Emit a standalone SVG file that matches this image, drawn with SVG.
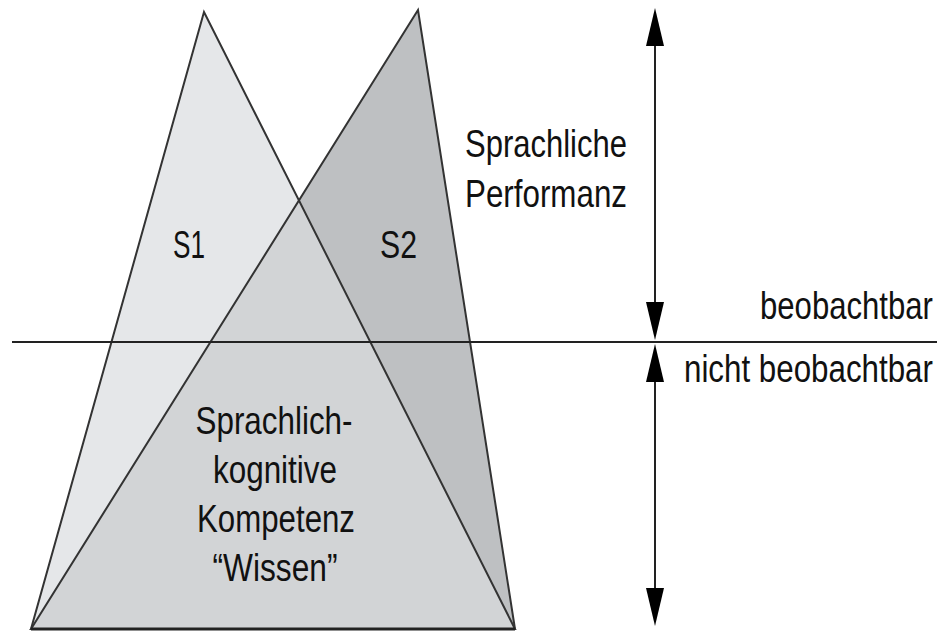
<svg xmlns="http://www.w3.org/2000/svg" width="946" height="631" viewBox="0 0 946 631">
  <style>
    .edge { fill: none; stroke: #333; stroke-width: 2; stroke-linejoin: miter; }
    .base { stroke: #222; stroke-width: 3; }
    .lbl { font-family: "Liberation Sans", Arial, sans-serif; font-size: 39px; fill: #111; }
    .ctr { text-anchor: middle; }
    .axis { stroke: #222; stroke-width: 2; fill: none; }
    .head { fill: #000; }
  </style>
  <rect width="946" height="631" fill="#fff"/>
  <g id="S1">
    <polygon points="204,12 31,629 515,629" fill="#e5e7e9"/>
  </g>
  <g id="S2">
    <polygon points="418,10 31,629 515,629" fill="#bec0c2"/>
  </g>
  <g id="kompetenz">
    <polygon points="299,201 31,629 515,629" fill="#d2d4d6"/>
  </g>
  <g id="outlines">
    <polygon class="edge" points="204,12 31,629 515,629"/>
    <polygon class="edge" points="418,10 31,629 515,629"/>
    <line class="base" x1="31" y1="629" x2="515" y2="629"/>
  </g>
  <g id="connectors">
    <line class="axis" x1="12" y1="342" x2="937" y2="342"/>
    <line class="axis" x1="655" y1="40" x2="655" y2="305"/>
    <polygon class="head" points="655,8 646,46 664,46"/>
    <polygon class="head" points="655,340 646,302 664,302"/>
    <line class="axis" x1="655" y1="375" x2="655" y2="592"/>
    <polygon class="head" points="655,344 646,382 664,382"/>
    <polygon class="head" points="655,626 646,588 664,588"/>
  </g>
  <g id="labels">
    <text class="lbl" x="173" y="258" textLength="32" lengthAdjust="spacingAndGlyphs">S1</text>
    <text class="lbl" x="380" y="258" textLength="37" lengthAdjust="spacingAndGlyphs">S2</text>
    <text class="lbl" x="465" y="157" textLength="162" lengthAdjust="spacingAndGlyphs">Sprachliche</text>
    <text class="lbl" x="465" y="207" textLength="162" lengthAdjust="spacingAndGlyphs">Performanz</text>
    <text class="lbl" transform="translate(760,319) scale(0.798,1)">beobachtbar</text>
    <text class="lbl" transform="translate(684,382) scale(0.803,1)">nicht beobachtbar</text>
    <text class="lbl ctr" x="274" y="434" textLength="157" lengthAdjust="spacingAndGlyphs">Sprachlich-</text>
    <text class="lbl ctr" x="275" y="483" textLength="124" lengthAdjust="spacingAndGlyphs">kognitive</text>
    <text class="lbl ctr" x="276" y="532" textLength="158" lengthAdjust="spacingAndGlyphs">Kompetenz</text>
    <text class="lbl ctr" x="275" y="581" textLength="125" lengthAdjust="spacingAndGlyphs">“Wissen”</text>
  </g>
</svg>
